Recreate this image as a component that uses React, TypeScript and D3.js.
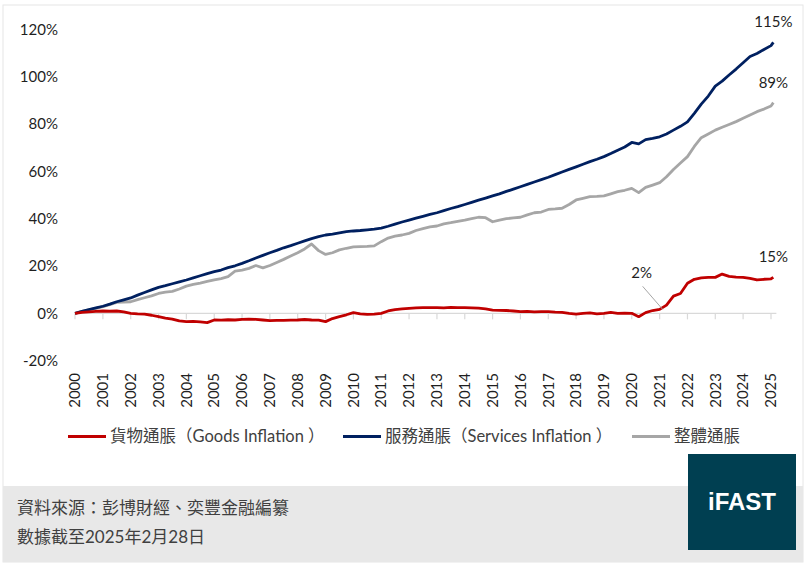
import { scaleLinear, scaleTime, line, timeMonth, timeYear } from 'd3'

// quarterly samples: Jan/Apr/Jul/Oct 2000-2024, then Jan & Feb 2025
const DATES = [
  ...timeMonth.every(3)!.range(new Date(2000, 0, 1), new Date(2025, 0, 2)),
  new Date(2025, 1, 1),
]

const GOODS = [
  0, 0.4, 0.6, 0.8,
  1.0, 0.9, 1.0, 0.6,
  0.0, -0.2, -0.3, -0.8,
  -1.4, -2.0, -2.4, -3.2,
  -3.5, -3.4, -3.6, -3.9,
  -2.8, -2.9, -2.7, -2.8,
  -2.5, -2.4, -2.5, -2.8,
  -3.1, -3.0, -3.0, -2.9,
  -2.8, -2.6, -2.8, -2.9,
  -3.5, -2.2, -1.4, -0.6,
  0.3, -0.2, -0.4, -0.3,
  0.0, 1.0, 1.6, 1.9,
  2.1, 2.3, 2.4, 2.4,
  2.4, 2.3, 2.5, 2.4,
  2.4, 2.3, 2.2, 1.9,
  1.4, 1.3, 1.2, 1.0,
  0.7, 0.8, 0.6, 0.7,
  0.7, 0.5, 0.4, 0.0,
  -0.3, 0.0, 0.2, -0.2,
  0.0, 0.4, 0.0, 0.1,
  0.0, -1.4, 0.3, 1.2,
  1.7, 3.5, 7.3, 8.4,
  12.7, 14.4, 15.0, 15.2,
  15.2, 16.6, 15.6, 15.3,
  15.2, 14.8, 14.1, 14.4,
  14.6, 15.2,
]

const SERVICES = [
  0, 0.8, 1.6, 2.3,
  3.0, 3.9, 4.9, 5.7,
  6.5, 7.7, 8.8, 9.9,
  11.0, 11.7, 12.5, 13.3,
  14.1, 15.0, 15.9, 16.8,
  17.6, 18.3, 19.3, 20.1,
  21.1, 22.2, 23.4, 24.5,
  25.6, 26.6, 27.7, 28.6,
  29.6, 30.6, 31.6, 32.4,
  33.1, 33.5, 34.0, 34.5,
  34.8, 35.0, 35.3, 35.6,
  36.0, 36.8, 37.7, 38.6,
  39.4, 40.2, 41.0, 41.8,
  42.5, 43.4, 44.3, 45.1,
  46.0, 46.9, 47.8, 48.7,
  49.6, 50.5, 51.5, 52.5,
  53.5, 54.5, 55.5, 56.5,
  57.5, 58.6, 59.7, 60.8,
  61.9, 63.0, 64.1, 65.1,
  66.2, 67.5, 68.9, 70.3,
  72.2, 71.6, 73.4, 73.9,
  74.6, 75.8, 77.4, 79.0,
  80.9, 84.5, 88.4, 91.8,
  96.0, 98.1, 100.7, 103.2,
  105.9, 108.5, 109.8, 111.5,
  113.1, 114.5,
]

const OVERALL = [
  0, 0.8, 1.5, 2.1,
  2.8, 3.7, 4.6, 4.8,
  4.9, 5.8, 6.6, 7.4,
  8.4, 9.0, 9.3, 10.3,
  11.5, 12.2, 12.8, 13.5,
  14.1, 14.7, 15.5, 17.8,
  18.3, 19.0, 20.2, 19.2,
  20.2, 21.5, 22.8, 24.2,
  25.6, 27.2, 29.3, 26.5,
  24.9, 25.6, 26.8, 27.5,
  28.1, 28.2, 28.3, 28.5,
  30.3, 31.8, 32.6, 33.1,
  33.8, 35.0, 35.8, 36.5,
  36.9, 37.8, 38.3, 38.9,
  39.4, 40.0, 40.6, 40.4,
  38.7, 39.4, 40.0, 40.3,
  40.6, 41.6, 42.5, 42.8,
  43.9, 44.1, 44.4, 46.0,
  47.9, 48.6, 49.3, 49.4,
  49.6, 50.5, 51.4, 52.0,
  52.8, 51.0, 53.2, 54.2,
  55.2, 57.7, 60.8, 63.5,
  66.2, 70.5, 74.2, 75.8,
  77.4, 78.6, 79.8, 81.0,
  82.4, 83.8, 85.2, 86.3,
  87.6, 89.0,
]

const Y_TICKS = [-20, 0, 20, 40, 60, 80, 100, 120]
const SERIES_NAMES = ['貨物通脹（Goods Inflation ）', '服務通脹（Services Inflation ）', '整體通脹']
const SOURCE = '資料來源：彭博財經、奕豐金融編纂'
const AS_OF = '數據截至2025年2月28日'
const ANNOT_DATE = new Date(2021, 0, 1)

const COLORS = ['#c00000', '#002060', '#a6a6a6']
const FONT = "Lato, 'Noto Sans CJK TC', sans-serif"

export default function App() {
  const width = 811
  const height = 570

  const xScale = scaleTime()
    .domain([new Date(2000, 0, 1), new Date(2025, 0, 1)])
    .range([75, 771])
  const yScale = scaleLinear().domain([-20, 120]).range([360.7, 29.3])

  const series = [GOODS, SERVICES, OVERALL]
  const path = line<number>()
    .x((_, i) => xScale(DATES[i]))
    .y((d) => yScale(d))

  const years = timeYear.range(new Date(2000, 0, 1), new Date(2025, 0, 2))
  const lastIdx = DATES.length - 1
  const lastX = xScale(DATES[lastIdx])

  const ai = DATES.findIndex((d) => +d === +ANNOT_DATE)
  const tipX = xScale(DATES[ai]) + 3
  const tipY = yScale(GOODS[ai])

  const legendX = [68, 343, 632]

  return (
    <svg
      width={width}
      height={height}
      style={{ position: 'absolute', left: 0, top: 0, background: '#fff' }}
      fontFamily={FONT}
    >
      {/* card border + footer band */}
      <rect x={3} y={5} width={800} height={557} fill='#fff' stroke='#e6e6e6' />
      <rect x={3} y={486} width={800} height={76} fill='#e8e8e8' />

      {/* Y tick labels */}
      {Y_TICKS.map((t) => (
        <text
          key={t}
          x={58}
          y={yScale(t)}
          dy='0.35em'
          textAnchor='end'
          fontSize={15}
          fill='#1f1f1f'
        >
          {t}%
        </text>
      ))}

      {/* zero axis with year ticks */}
      <line x1={75} x2={lastX + 3} y1={yScale(0)} y2={yScale(0)} stroke='#d9d9d9' strokeWidth={1.2} />
      {years.map((d) => (
        <g key={+d} transform={`translate(${xScale(d)},0)`}>
          <line y1={yScale(0)} y2={yScale(0) + 6} stroke='#d9d9d9' strokeWidth={1.2} />
          <text
            transform={`translate(0,373) rotate(-90)`}
            textAnchor='end'
            dy='0.35em'
            fontSize={15}
            fill='#1f1f1f'
          >
            {d.getFullYear()}
          </text>
        </g>
      ))}

      {/* lines */}
      {[2, 1, 0].map((k) => (
        <path
          key={k}
          d={path(series[k]) || ''}
          fill='none'
          stroke={COLORS[k]}
          strokeWidth={2.8}
          strokeLinejoin='round'
        />
      ))}

      {/* end labels */}
      {series.map((s, k) => (
        <text
          key={k}
          x={lastX}
          y={yScale(s[lastIdx]) - 15}
          textAnchor='middle'
          fontSize={15}
          fill='#1f1f1f'
        >
          {Math.round(s[lastIdx])}%
        </text>
      ))}

      {/* 2% annotation */}
      <line x1={tipX - 20} y1={tipY - 23} x2={tipX} y2={tipY} stroke='#a6a6a6' strokeWidth={1} />
      <text x={tipX - 21} y={tipY - 31} textAnchor='middle' fontSize={15} fill='#1f1f1f'>
        {Math.round(GOODS[ai])}%
      </text>

      {/* legend */}
      {SERIES_NAMES.map((name, k) => (
        <g key={k} transform={`translate(${legendX[k]},436.5)`}>
          <line x1={0} x2={38} stroke={COLORS[k]} strokeWidth={2.8} />
          <text x={42} dy='0.35em' fontSize={16.5} fill='#404040'>
            {name}
          </text>
        </g>
      ))}

      {/* footer */}
      <text x={17} y={514} fontSize={17} fill='#404040'>
        {SOURCE}
      </text>
      <text x={17} y={543} fontSize={17} fill='#404040'>
        {AS_OF}
      </text>

      {/* logo */}
      <rect x={688} y={454} width={108} height={96} fill='#003f51' />
      <text
        x={742}
        y={502}
        dy='0.35em'
        textAnchor='middle'
        fontFamily="'Liberation Sans', Arial, sans-serif"
        fontWeight='bold'
        fontSize={24}
        fill='#fff'
      >
        iFAST
      </text>
    </svg>
  )
}
